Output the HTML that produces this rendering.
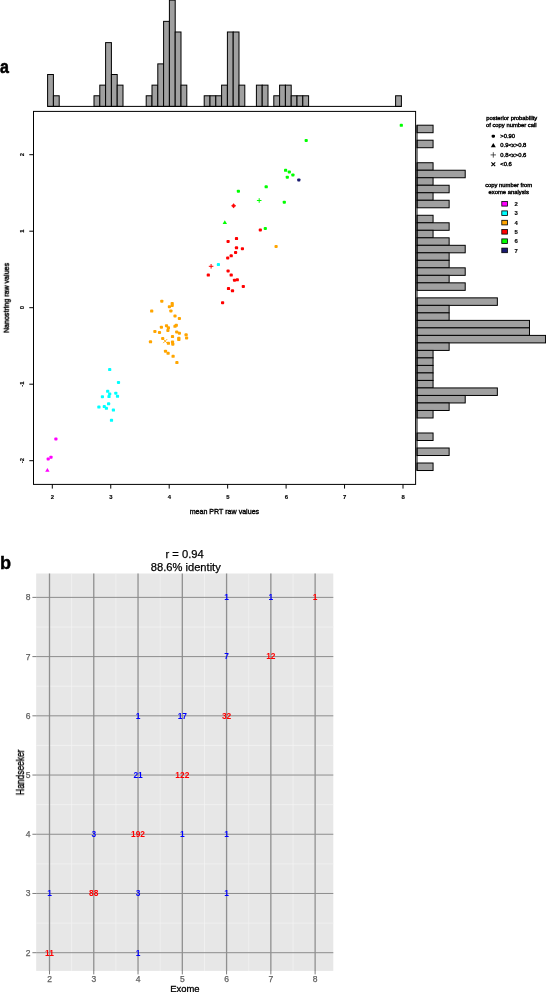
<!DOCTYPE html>
<html><head><meta charset="utf-8"><title>Figure</title>
<style>html,body{margin:0;padding:0;background:#fff;}body{width:546px;height:992px;overflow:hidden;font-family:"Liberation Sans", sans-serif;}svg{display:block;}text{font-family:"Liberation Sans", sans-serif;}</style>
</head><body>
<svg width="546" height="992" viewBox="0 0 546 992">
<rect x="0" y="0" width="546" height="992" fill="#ffffff"/>
<defs><filter id="sf" x="-5%" y="-5%" width="110%" height="110%" color-interpolation-filters="sRGB"><feGaussianBlur stdDeviation="0.3"/></filter></defs>
<g id="tophist" stroke="#000" stroke-width="1" fill="#a0a0a0">
<rect x="47.60" y="74.51" width="5.80" height="31.89"/>
<rect x="53.40" y="95.77" width="5.80" height="10.63"/>
<rect x="94.00" y="95.77" width="5.80" height="10.63"/>
<rect x="99.80" y="85.14" width="5.80" height="21.26"/>
<rect x="105.60" y="42.62" width="5.80" height="63.78"/>
<rect x="111.40" y="74.51" width="5.80" height="31.89"/>
<rect x="117.20" y="85.14" width="5.80" height="21.26"/>
<rect x="146.20" y="95.77" width="5.80" height="10.63"/>
<rect x="152.00" y="85.14" width="5.80" height="21.26"/>
<rect x="157.80" y="63.88" width="5.80" height="42.52"/>
<rect x="163.60" y="21.36" width="5.80" height="85.04"/>
<rect x="169.40" y="0.10" width="5.80" height="106.30"/>
<rect x="175.20" y="31.99" width="5.80" height="74.41"/>
<rect x="181.00" y="85.14" width="5.80" height="21.26"/>
<rect x="204.20" y="95.77" width="5.80" height="10.63"/>
<rect x="210.00" y="95.77" width="5.80" height="10.63"/>
<rect x="215.80" y="95.77" width="5.80" height="10.63"/>
<rect x="221.60" y="85.14" width="5.80" height="21.26"/>
<rect x="227.40" y="31.99" width="5.80" height="74.41"/>
<rect x="233.20" y="31.99" width="5.80" height="74.41"/>
<rect x="239.00" y="85.14" width="5.80" height="21.26"/>
<rect x="256.40" y="85.14" width="5.80" height="21.26"/>
<rect x="262.20" y="85.14" width="5.80" height="21.26"/>
<rect x="273.80" y="95.77" width="5.80" height="10.63"/>
<rect x="279.60" y="85.14" width="5.80" height="21.26"/>
<rect x="285.40" y="85.14" width="5.80" height="21.26"/>
<rect x="291.20" y="95.77" width="5.80" height="10.63"/>
<rect x="297.00" y="95.77" width="5.80" height="10.63"/>
<rect x="302.80" y="95.77" width="5.80" height="10.63"/>
<rect x="395.60" y="95.77" width="5.80" height="10.63"/>
<line x1="47.60" y1="106.40" x2="401.40" y2="106.40"/>
</g>
<g id="righthist" stroke="#000" stroke-width="1" fill="#a0a0a0">
<rect x="417.00" y="125.20" width="16.07" height="7.51"/>
<rect x="417.00" y="140.21" width="16.07" height="7.51"/>
<rect x="417.00" y="162.74" width="16.07" height="7.51"/>
<rect x="417.00" y="170.24" width="48.21" height="7.51"/>
<rect x="417.00" y="177.75" width="16.07" height="7.51"/>
<rect x="417.00" y="185.26" width="32.14" height="7.51"/>
<rect x="417.00" y="192.76" width="16.07" height="7.51"/>
<rect x="417.00" y="200.27" width="32.14" height="7.51"/>
<rect x="417.00" y="215.28" width="16.07" height="7.51"/>
<rect x="417.00" y="222.79" width="32.14" height="7.51"/>
<rect x="417.00" y="230.30" width="16.07" height="7.51"/>
<rect x="417.00" y="237.81" width="32.14" height="7.51"/>
<rect x="417.00" y="245.31" width="48.21" height="7.51"/>
<rect x="417.00" y="252.82" width="32.14" height="7.51"/>
<rect x="417.00" y="260.33" width="32.14" height="7.51"/>
<rect x="417.00" y="267.83" width="48.21" height="7.51"/>
<rect x="417.00" y="275.34" width="32.14" height="7.51"/>
<rect x="417.00" y="282.85" width="48.21" height="7.51"/>
<rect x="417.00" y="297.86" width="80.35" height="7.51"/>
<rect x="417.00" y="305.37" width="32.14" height="7.51"/>
<rect x="417.00" y="312.88" width="32.14" height="7.51"/>
<rect x="417.00" y="320.38" width="112.49" height="7.51"/>
<rect x="417.00" y="327.89" width="112.49" height="7.51"/>
<rect x="417.00" y="335.40" width="128.56" height="7.51"/>
<rect x="417.00" y="342.90" width="32.14" height="7.51"/>
<rect x="417.00" y="350.41" width="16.07" height="7.51"/>
<rect x="417.00" y="357.92" width="16.07" height="7.51"/>
<rect x="417.00" y="365.42" width="16.07" height="7.51"/>
<rect x="417.00" y="372.93" width="16.07" height="7.51"/>
<rect x="417.00" y="380.44" width="16.07" height="7.51"/>
<rect x="417.00" y="387.94" width="80.35" height="7.51"/>
<rect x="417.00" y="395.45" width="48.21" height="7.51"/>
<rect x="417.00" y="402.96" width="32.14" height="7.51"/>
<rect x="417.00" y="410.47" width="16.07" height="7.51"/>
<rect x="417.00" y="432.99" width="16.07" height="7.51"/>
<rect x="417.00" y="448.00" width="32.14" height="7.51"/>
<rect x="417.00" y="463.01" width="16.07" height="7.51"/>
<line x1="417.00" y1="125.20" x2="417.00" y2="470.52"/>
</g>
<rect x="33.50" y="111.40" width="382.10" height="373.00" fill="none" stroke="#000" stroke-width="1"/>
<g stroke="#000" stroke-width="1">
<line x1="52.30" y1="484.40" x2="52.30" y2="488.60"/>
<line x1="110.75" y1="484.40" x2="110.75" y2="488.60"/>
<line x1="169.20" y1="484.40" x2="169.20" y2="488.60"/>
<line x1="227.65" y1="484.40" x2="227.65" y2="488.60"/>
<line x1="286.10" y1="484.40" x2="286.10" y2="488.60"/>
<line x1="344.55" y1="484.40" x2="344.55" y2="488.60"/>
<line x1="403.00" y1="484.40" x2="403.00" y2="488.60"/>
<line x1="29.30" y1="460.70" x2="33.50" y2="460.70"/>
<line x1="29.30" y1="384.20" x2="33.50" y2="384.20"/>
<line x1="29.30" y1="307.70" x2="33.50" y2="307.70"/>
<line x1="29.30" y1="231.20" x2="33.50" y2="231.20"/>
<line x1="29.30" y1="154.70" x2="33.50" y2="154.70"/>
</g>
<g font-size="5.9" font-weight="bold" fill="#000" stroke="#000" stroke-width="0.15" text-anchor="middle" filter="url(#sf)">
<text x="52.50" y="498.50">2</text>
<text x="110.95" y="498.50">3</text>
<text x="169.40" y="498.50">4</text>
<text x="227.85" y="498.50">5</text>
<text x="286.30" y="498.50">6</text>
<text x="344.75" y="498.50">7</text>
<text x="403.20" y="498.50">8</text>
<text transform="translate(24.40 460.70) rotate(-90)" x="0" y="0">-2</text>
<text transform="translate(24.40 384.20) rotate(-90)" x="0" y="0">-1</text>
<text transform="translate(24.40 307.70) rotate(-90)" x="0" y="0">0</text>
<text transform="translate(24.40 231.20) rotate(-90)" x="0" y="0">1</text>
<text transform="translate(24.40 154.70) rotate(-90)" x="0" y="0">2</text>
</g>
<text transform="translate(224.4 514.1) scale(1 1.05)" font-size="7.1" text-anchor="middle" fill="#000" stroke="#000" stroke-width="0.35" filter="url(#sf)">mean PRT raw values</text>
<text transform="translate(8.8 297.9) rotate(-90) scale(1 1.1)" font-size="7.1" text-anchor="middle" fill="#000" stroke="#000" stroke-width="0.4" filter="url(#sf)">Nanostring raw values</text>
<g id="pts">
<rect x="54.30" y="437.50" width="3.2" height="3.0" rx="0.9" fill="#ff00ff"/>
<rect x="49.40" y="455.70" width="3.2" height="3.0" rx="0.9" fill="#ff00ff"/>
<rect x="46.60" y="457.50" width="3.2" height="3.0" rx="0.9" fill="#ff00ff"/>
<rect x="108.10" y="368.10" width="3.2" height="3.0" rx="0.9" fill="#00ffff"/>
<rect x="116.90" y="380.90" width="3.2" height="3.0" rx="0.9" fill="#00ffff"/>
<rect x="106.10" y="389.80" width="3.2" height="3.0" rx="0.9" fill="#00ffff"/>
<rect x="114.20" y="391.70" width="3.2" height="3.0" rx="0.9" fill="#00ffff"/>
<rect x="108.10" y="392.50" width="3.2" height="3.0" rx="0.9" fill="#00ffff"/>
<rect x="115.90" y="394.80" width="3.2" height="3.0" rx="0.9" fill="#00ffff"/>
<rect x="107.40" y="395.10" width="3.2" height="3.0" rx="0.9" fill="#00ffff"/>
<rect x="100.80" y="395.20" width="3.2" height="3.0" rx="0.9" fill="#00ffff"/>
<rect x="107.00" y="402.30" width="3.2" height="3.0" rx="0.9" fill="#00ffff"/>
<rect x="102.70" y="405.10" width="3.2" height="3.0" rx="0.9" fill="#00ffff"/>
<rect x="104.80" y="406.80" width="3.2" height="3.0" rx="0.9" fill="#00ffff"/>
<rect x="97.30" y="405.60" width="3.2" height="3.0" rx="0.9" fill="#00ffff"/>
<rect x="111.80" y="408.60" width="3.2" height="3.0" rx="0.9" fill="#00ffff"/>
<rect x="109.90" y="418.80" width="3.2" height="3.0" rx="0.9" fill="#00ffff"/>
<rect x="216.80" y="263.10" width="3.2" height="3.0" rx="0.9" fill="#00ffff"/>
<rect x="160.20" y="299.70" width="3.2" height="3.0" rx="0.9" fill="#ffa500"/>
<rect x="170.60" y="301.90" width="3.2" height="3.0" rx="0.9" fill="#ffa500"/>
<rect x="170.60" y="304.00" width="3.2" height="3.0" rx="0.9" fill="#ffa500"/>
<rect x="167.80" y="305.20" width="3.2" height="3.0" rx="0.9" fill="#ffa500"/>
<rect x="150.10" y="309.60" width="3.2" height="3.0" rx="0.9" fill="#ffa500"/>
<rect x="169.30" y="309.40" width="3.2" height="3.0" rx="0.9" fill="#ffa500"/>
<rect x="173.40" y="314.50" width="3.2" height="3.0" rx="0.9" fill="#ffa500"/>
<rect x="177.80" y="316.90" width="3.2" height="3.0" rx="0.9" fill="#ffa500"/>
<rect x="174.70" y="323.80" width="3.2" height="3.0" rx="0.9" fill="#ffa500"/>
<rect x="173.40" y="324.80" width="3.2" height="3.0" rx="0.9" fill="#ffa500"/>
<rect x="164.90" y="324.20" width="3.2" height="3.0" rx="0.9" fill="#ffa500"/>
<rect x="159.80" y="325.70" width="3.2" height="3.0" rx="0.9" fill="#ffa500"/>
<rect x="166.80" y="326.30" width="3.2" height="3.0" rx="0.9" fill="#ffa500"/>
<rect x="166.30" y="328.90" width="3.2" height="3.0" rx="0.9" fill="#ffa500"/>
<rect x="153.30" y="329.90" width="3.2" height="3.0" rx="0.9" fill="#ffa500"/>
<rect x="157.90" y="331.00" width="3.2" height="3.0" rx="0.9" fill="#ffa500"/>
<rect x="175.10" y="330.40" width="3.2" height="3.0" rx="0.9" fill="#ffa500"/>
<rect x="177.80" y="331.70" width="3.2" height="3.0" rx="0.9" fill="#ffa500"/>
<rect x="184.50" y="333.30" width="3.2" height="3.0" rx="0.9" fill="#ffa500"/>
<rect x="170.90" y="335.10" width="3.2" height="3.0" rx="0.9" fill="#ffa500"/>
<rect x="185.00" y="336.50" width="3.2" height="3.0" rx="0.9" fill="#ffa500"/>
<rect x="177.20" y="336.70" width="3.2" height="3.0" rx="0.9" fill="#ffa500"/>
<rect x="177.20" y="338.10" width="3.2" height="3.0" rx="0.9" fill="#ffa500"/>
<rect x="161.10" y="337.00" width="3.2" height="3.0" rx="0.9" fill="#ffa500"/>
<rect x="148.90" y="340.30" width="3.2" height="3.0" rx="0.9" fill="#ffa500"/>
<rect x="166.80" y="341.80" width="3.2" height="3.0" rx="0.9" fill="#ffa500"/>
<rect x="170.90" y="340.60" width="3.2" height="3.0" rx="0.9" fill="#ffa500"/>
<rect x="171.20" y="342.70" width="3.2" height="3.0" rx="0.9" fill="#ffa500"/>
<rect x="163.90" y="349.70" width="3.2" height="3.0" rx="0.9" fill="#ffa500"/>
<rect x="166.50" y="351.80" width="3.2" height="3.0" rx="0.9" fill="#ffa500"/>
<rect x="171.50" y="354.80" width="3.2" height="3.0" rx="0.9" fill="#ffa500"/>
<rect x="175.30" y="361.10" width="3.2" height="3.0" rx="0.9" fill="#ffa500"/>
<rect x="274.50" y="245.00" width="3.2" height="3.0" rx="0.9" fill="#ffa500"/>
<rect x="258.70" y="228.50" width="3.2" height="3.0" rx="0.9" fill="#ff0000"/>
<rect x="234.90" y="237.10" width="3.2" height="3.0" rx="0.9" fill="#ff0000"/>
<rect x="226.50" y="239.90" width="3.2" height="3.0" rx="0.9" fill="#ff0000"/>
<rect x="234.90" y="246.30" width="3.2" height="3.0" rx="0.9" fill="#ff0000"/>
<rect x="240.80" y="247.20" width="3.2" height="3.0" rx="0.9" fill="#ff0000"/>
<rect x="234.00" y="251.00" width="3.2" height="3.0" rx="0.9" fill="#ff0000"/>
<rect x="229.60" y="254.30" width="3.2" height="3.0" rx="0.9" fill="#ff0000"/>
<rect x="226.10" y="256.50" width="3.2" height="3.0" rx="0.9" fill="#ff0000"/>
<rect x="226.50" y="269.50" width="3.2" height="3.0" rx="0.9" fill="#ff0000"/>
<rect x="206.70" y="273.60" width="3.2" height="3.0" rx="0.9" fill="#ff0000"/>
<rect x="229.60" y="273.60" width="3.2" height="3.0" rx="0.9" fill="#ff0000"/>
<rect x="232.90" y="278.70" width="3.2" height="3.0" rx="0.9" fill="#ff0000"/>
<rect x="235.70" y="278.30" width="3.2" height="3.0" rx="0.9" fill="#ff0000"/>
<rect x="241.70" y="284.90" width="3.2" height="3.0" rx="0.9" fill="#ff0000"/>
<rect x="226.90" y="287.10" width="3.2" height="3.0" rx="0.9" fill="#ff0000"/>
<rect x="230.90" y="289.30" width="3.2" height="3.0" rx="0.9" fill="#ff0000"/>
<rect x="221.00" y="301.20" width="3.2" height="3.0" rx="0.9" fill="#ff0000"/>
<rect x="232.00" y="204.30" width="3.2" height="3.0" rx="0.9" fill="#ff3030"/>
<rect x="264.60" y="185.30" width="3.2" height="3.0" rx="0.9" fill="#00ff00"/>
<rect x="236.80" y="189.70" width="3.2" height="3.0" rx="0.9" fill="#00ff00"/>
<rect x="282.70" y="200.70" width="3.2" height="3.0" rx="0.9" fill="#00ff00"/>
<rect x="263.70" y="227.00" width="3.2" height="3.0" rx="0.9" fill="#00ff00"/>
<rect x="304.60" y="139.00" width="3.2" height="3.0" rx="0.9" fill="#00ff00"/>
<rect x="284.00" y="168.80" width="3.2" height="3.0" rx="0.9" fill="#00ff00"/>
<rect x="287.70" y="170.40" width="3.2" height="3.0" rx="0.9" fill="#00ff00"/>
<rect x="291.30" y="173.40" width="3.2" height="3.0" rx="0.9" fill="#00ff00"/>
<rect x="285.70" y="175.70" width="3.2" height="3.0" rx="0.9" fill="#00ff00"/>
<rect x="399.70" y="123.80" width="3.2" height="3.0" rx="0.9" fill="#00ff00"/>
<rect x="297.20" y="178.40" width="3.2" height="3.0" rx="0.9" fill="#191970"/>
<path d="M47.40 468.10 L49.60 471.80 L45.20 471.80 Z" fill="#ff00ff"/>
<path d="M224.80 220.30 L227.00 224.00 L222.60 224.00 Z" fill="#00ff00"/>
<path d="M231.30 205.80 H235.90 M233.60 203.50 V208.10" stroke="#ff0000" stroke-width="1" fill="none"/>
<path d="M208.80 266.30 H213.40 M211.10 264.00 V268.60" stroke="#ff0000" stroke-width="1" fill="none"/>
<path d="M256.90 200.50 H261.50 M259.20 198.20 V202.80" stroke="#00ff00" stroke-width="1" fill="none"/>
<path d="M163.20 339.10 L167.20 343.10 M163.20 343.10 L167.20 339.10" stroke="#ffa500" stroke-width="0.9" fill="none"/>
</g>
<g font-size="5.85" fill="#000" stroke="#000" stroke-width="0.4" filter="url(#sf)">
<text x="511.8" y="120.1" text-anchor="middle">posterior probability</text>
<text x="511.3" y="127.1" text-anchor="middle">of copy number call</text>
<text x="500.3" y="138.30">&gt;0.90</text>
<text x="500.3" y="147.30">0.9&lt;x&gt;0.8</text>
<text x="500.3" y="157.00">0.8&lt;x&gt;0.6</text>
<text x="500.3" y="166.30">&lt;0.6</text>
<text x="508.7" y="187.0" text-anchor="middle">copy number from</text>
<text x="508.7" y="194.35" text-anchor="middle">exome analysis</text>
</g>
<rect x="491.60" y="134.70" width="3.4" height="3.0" rx="1.1" fill="#000"/>
<path d="M493.30 143.10 L495.80 147.20 L490.80 147.20 Z" fill="#000"/>
<path d="M490.60 154.90 H496.00 M493.30 152.20 V157.60" stroke="#222" stroke-width="0.75" fill="none"/>
<path d="M491.40 162.30 L495.20 166.10 M491.40 166.10 L495.20 162.30" stroke="#000" stroke-width="1.1" fill="none"/>
<rect x="501.8" y="201.50" width="5.6" height="4.6" fill="#ff00ff" stroke="#000" stroke-width="0.8"/>
<text x="516.1" y="205.90" font-size="5.9" font-weight="bold" stroke="#000" stroke-width="0.15" text-anchor="middle" fill="#000" filter="url(#sf)">2</text>
<rect x="501.8" y="210.90" width="5.6" height="4.6" fill="#00ffff" stroke="#000" stroke-width="0.8"/>
<text x="516.1" y="215.30" font-size="5.9" font-weight="bold" stroke="#000" stroke-width="0.15" text-anchor="middle" fill="#000" filter="url(#sf)">3</text>
<rect x="501.8" y="220.30" width="5.6" height="4.6" fill="#ffa500" stroke="#000" stroke-width="0.8"/>
<text x="516.1" y="224.70" font-size="5.9" font-weight="bold" stroke="#000" stroke-width="0.15" text-anchor="middle" fill="#000" filter="url(#sf)">4</text>
<rect x="501.8" y="229.50" width="5.6" height="4.6" fill="#ff0000" stroke="#000" stroke-width="0.8"/>
<text x="516.1" y="233.90" font-size="5.9" font-weight="bold" stroke="#000" stroke-width="0.15" text-anchor="middle" fill="#000" filter="url(#sf)">5</text>
<rect x="501.8" y="238.90" width="5.6" height="4.6" fill="#00ff00" stroke="#000" stroke-width="0.8"/>
<text x="516.1" y="243.30" font-size="5.9" font-weight="bold" stroke="#000" stroke-width="0.15" text-anchor="middle" fill="#000" filter="url(#sf)">6</text>
<rect x="501.8" y="248.10" width="5.6" height="4.6" fill="#191970" stroke="#000" stroke-width="0.8"/>
<text x="516.1" y="252.50" font-size="5.9" font-weight="bold" stroke="#000" stroke-width="0.15" text-anchor="middle" fill="#000" filter="url(#sf)">7</text>
<text transform="translate(0 72.7) scale(0.86 1)" font-size="18.6" font-weight="bold" fill="#000" stroke="#000" stroke-width="0.6" stroke-linejoin="round" filter="url(#sf)">a</text>
<rect x="36.20" y="573.50" width="297.10" height="397.40" fill="#e7e7e7"/>
<g stroke="#f4f4f4" stroke-width="0.7">
<line x1="71.64" y1="573.50" x2="71.64" y2="970.90"/>
<line x1="36.20" y1="923.09" x2="333.30" y2="923.09"/>
<line x1="115.91" y1="573.50" x2="115.91" y2="970.90"/>
<line x1="36.20" y1="863.87" x2="333.30" y2="863.87"/>
<line x1="160.18" y1="573.50" x2="160.18" y2="970.90"/>
<line x1="36.20" y1="804.65" x2="333.30" y2="804.65"/>
<line x1="204.44" y1="573.50" x2="204.44" y2="970.90"/>
<line x1="36.20" y1="745.43" x2="333.30" y2="745.43"/>
<line x1="248.72" y1="573.50" x2="248.72" y2="970.90"/>
<line x1="36.20" y1="686.21" x2="333.30" y2="686.21"/>
<line x1="292.99" y1="573.50" x2="292.99" y2="970.90"/>
<line x1="36.20" y1="626.99" x2="333.30" y2="626.99"/>
</g>
<g stroke="#868686">
<line x1="49.50" y1="573.50" x2="49.50" y2="970.90" stroke-width="1.3" stroke="#909090"/>
<line x1="36.20" y1="952.70" x2="333.30" y2="952.70" stroke-width="0.95" stroke="#888888"/>
<line x1="93.77" y1="573.50" x2="93.77" y2="970.90" stroke-width="1.3" stroke="#909090"/>
<line x1="36.20" y1="893.48" x2="333.30" y2="893.48" stroke-width="0.95" stroke="#888888"/>
<line x1="138.04" y1="573.50" x2="138.04" y2="970.90" stroke-width="1.3" stroke="#909090"/>
<line x1="36.20" y1="834.26" x2="333.30" y2="834.26" stroke-width="0.95" stroke="#888888"/>
<line x1="182.31" y1="573.50" x2="182.31" y2="970.90" stroke-width="1.3" stroke="#909090"/>
<line x1="36.20" y1="775.04" x2="333.30" y2="775.04" stroke-width="0.95" stroke="#888888"/>
<line x1="226.58" y1="573.50" x2="226.58" y2="970.90" stroke-width="1.3" stroke="#909090"/>
<line x1="36.20" y1="715.82" x2="333.30" y2="715.82" stroke-width="0.95" stroke="#888888"/>
<line x1="270.85" y1="573.50" x2="270.85" y2="970.90" stroke-width="1.3" stroke="#909090"/>
<line x1="36.20" y1="656.60" x2="333.30" y2="656.60" stroke-width="0.95" stroke="#888888"/>
<line x1="315.12" y1="573.50" x2="315.12" y2="970.90" stroke-width="1.3" stroke="#909090"/>
<line x1="36.20" y1="597.38" x2="333.30" y2="597.38" stroke-width="0.95" stroke="#888888"/>
</g>
<g stroke="#6e6e6e" stroke-width="0.9">
<line x1="49.50" y1="970.90" x2="49.50" y2="974.40"/>
<line x1="32.40" y1="952.70" x2="36.20" y2="952.70"/>
<line x1="93.77" y1="970.90" x2="93.77" y2="974.40"/>
<line x1="32.40" y1="893.48" x2="36.20" y2="893.48"/>
<line x1="138.04" y1="970.90" x2="138.04" y2="974.40"/>
<line x1="32.40" y1="834.26" x2="36.20" y2="834.26"/>
<line x1="182.31" y1="970.90" x2="182.31" y2="974.40"/>
<line x1="32.40" y1="775.04" x2="36.20" y2="775.04"/>
<line x1="226.58" y1="970.90" x2="226.58" y2="974.40"/>
<line x1="32.40" y1="715.82" x2="36.20" y2="715.82"/>
<line x1="270.85" y1="970.90" x2="270.85" y2="974.40"/>
<line x1="32.40" y1="656.60" x2="36.20" y2="656.60"/>
<line x1="315.12" y1="970.90" x2="315.12" y2="974.40"/>
<line x1="32.40" y1="597.38" x2="36.20" y2="597.38"/>
</g>
<g font-size="8.5" fill="#606060" stroke="#606060" stroke-width="0.25" filter="url(#sf)">
<text x="49.50" y="982.20" text-anchor="middle">2</text>
<text x="30.60" y="955.60" text-anchor="end">2</text>
<text x="93.77" y="982.20" text-anchor="middle">3</text>
<text x="30.60" y="896.38" text-anchor="end">3</text>
<text x="138.04" y="982.20" text-anchor="middle">4</text>
<text x="30.60" y="837.16" text-anchor="end">4</text>
<text x="182.31" y="982.20" text-anchor="middle">5</text>
<text x="30.60" y="777.94" text-anchor="end">5</text>
<text x="226.58" y="982.20" text-anchor="middle">6</text>
<text x="30.60" y="718.72" text-anchor="end">6</text>
<text x="270.85" y="982.20" text-anchor="middle">7</text>
<text x="30.60" y="659.50" text-anchor="end">7</text>
<text x="315.12" y="982.20" text-anchor="middle">8</text>
<text x="30.60" y="600.28" text-anchor="end">8</text>
</g>
<g font-size="8.4" font-weight="bold" text-anchor="middle" filter="url(#sf)">
<text x="49.50" y="955.55" fill="#ff0000">11</text>
<text x="138.04" y="955.55" fill="#0000ff">1</text>
<text x="49.50" y="896.33" fill="#0000ff">1</text>
<text x="93.77" y="896.33" fill="#ff0000">88</text>
<text x="138.04" y="896.33" fill="#0000ff">3</text>
<text x="226.58" y="896.33" fill="#0000ff">1</text>
<text x="93.77" y="837.11" fill="#0000ff">3</text>
<text x="138.04" y="837.11" fill="#ff0000">192</text>
<text x="182.31" y="837.11" fill="#0000ff">1</text>
<text x="226.58" y="837.11" fill="#0000ff">1</text>
<text x="138.04" y="777.89" fill="#0000ff">21</text>
<text x="182.31" y="777.89" fill="#ff0000">122</text>
<text x="138.04" y="718.67" fill="#0000ff">1</text>
<text x="182.31" y="718.67" fill="#0000ff">17</text>
<text x="226.58" y="718.67" fill="#ff0000">32</text>
<text x="226.58" y="659.45" fill="#0000ff">7</text>
<text x="270.85" y="659.45" fill="#ff0000">12</text>
<text x="226.58" y="600.23" fill="#0000ff">1</text>
<text x="270.85" y="600.23" fill="#0000ff">1</text>
<text x="315.12" y="600.23" fill="#ff0000">1</text>
</g>
<text x="184.6" y="558.3" font-size="11.15" text-anchor="middle" fill="#000" stroke="#000" stroke-width="0.25" filter="url(#sf)">r = 0.94</text>
<text x="185.8" y="570.5" font-size="11.15" text-anchor="middle" fill="#000" stroke="#000" stroke-width="0.25" filter="url(#sf)">88.6% identity</text>
<text x="184.9" y="991.5" font-size="9.45" text-anchor="middle" fill="#000" stroke="#000" stroke-width="0.3" filter="url(#sf)">Exome</text>
<text transform="translate(24.0 772.3) rotate(-90) scale(0.842 1.07)" font-size="10" text-anchor="middle" fill="#000" stroke="#000" stroke-width="0.35" filter="url(#sf)">Handseeker</text>
<text transform="translate(0 568.7) scale(0.98 1)" font-size="18.5" font-weight="bold" fill="#000" stroke="#000" stroke-width="0.4" stroke-linejoin="round" filter="url(#sf)">b</text>
</svg>
</body></html>
